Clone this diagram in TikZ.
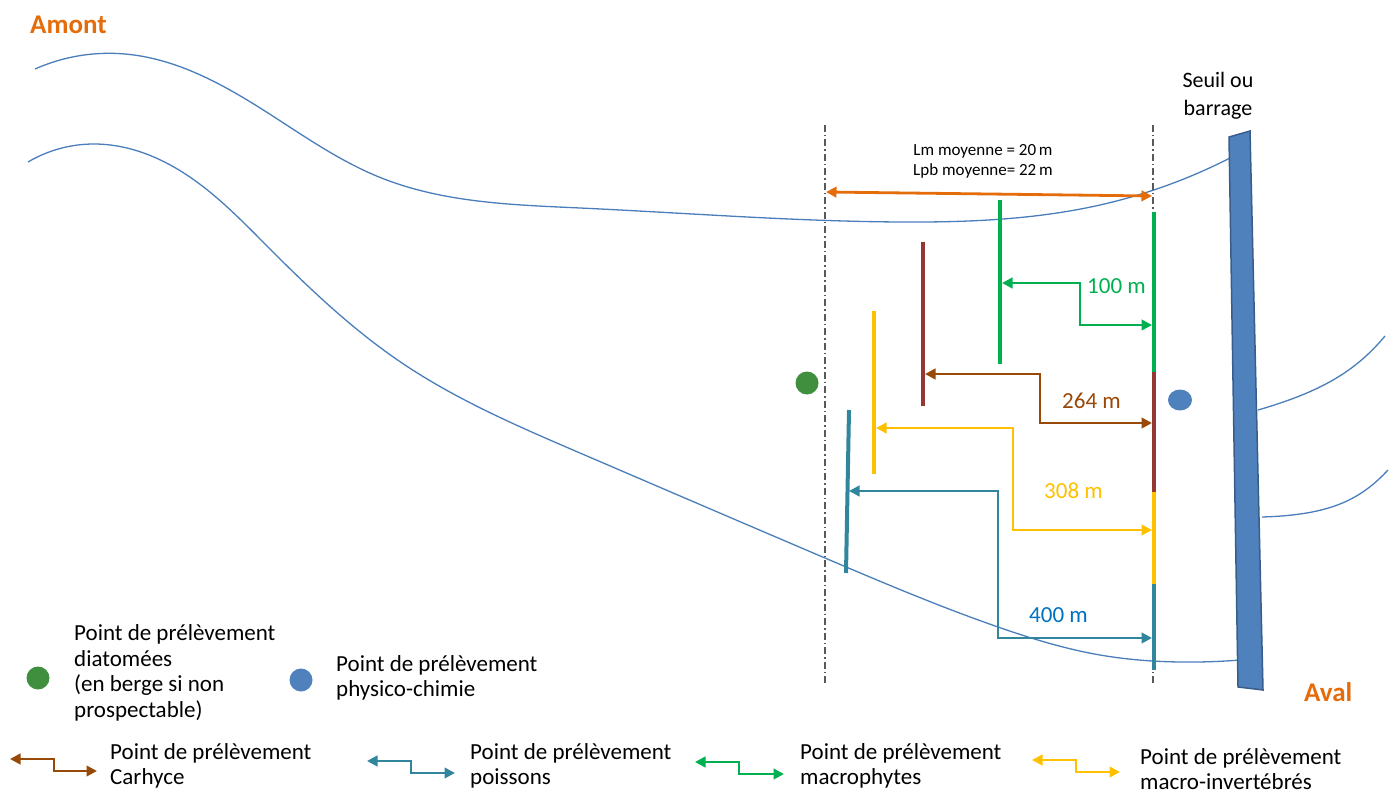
\documentclass[tikz,border=0pt]{standalone}
\usepackage{fontspec}
\setmainfont{Carlito}
\usetikzlibrary{arrows.meta,shapes.geometric,hobby}
\definecolor{river}{HTML}{4A7EBB}
\definecolor{orng}{HTML}{E46C0A}
\definecolor{grn}{HTML}{00B050}
\definecolor{brn}{HTML}{984807}
\definecolor{dred}{HTML}{953735}
\definecolor{ylw}{HTML}{FFC000}
\definecolor{tealc}{HTML}{31859C}
\definecolor{blu}{HTML}{0070C0}
\definecolor{dotgreen}{HTML}{3F8F3F}
\definecolor{dotblue}{HTML}{4F81BD}
\definecolor{damdark}{HTML}{385D8A}
\begin{document}
\begin{tikzpicture}[x=1pt,y=-1pt,
  bank/.style={river, line width=1.3pt},
  reach/.style={line width=4pt},
  elbow/.style={line width=2.8pt, line join=miter,
    {Triangle[length=10.5pt,width=10.5pt]}-{Triangle[length=10.5pt,width=10.5pt]}},
  axisline/.style={black!65, line width=1.2pt, dash pattern=on 7pt off 3pt on 1.5pt off 3pt},
  lbl/.style={font=\fontsize{23}{25}\selectfont, inner sep=0pt, anchor=west},
  leg/.style={font=\fontsize{23}{25.7}\selectfont, align=left, anchor=west, inner sep=0pt},
  title/.style={font=\fontsize{27}{30}\selectfont\bfseries, text=orng, inner sep=0pt},
  dot/.style={draw=none, circle, inner sep=0pt, minimum size=23pt},
]
\useasboundingbox (0,0) rectangle (1394,794);

% banks
\draw[bank, use Hobby shortcut] (35,69) .. (125,54) .. (268,113) .. (379,177) .. (580,208) .. (900,222) .. (1100,205) .. (1230,158);
\draw[bank, use Hobby shortcut] (28,162) .. (94,144) .. (179,170) .. (268,247) .. (402,363) .. (580,453) .. (825,558) .. (998,627) .. (1100,655) .. (1180,662) .. (1240,660);
\draw[bank] (1258,410) .. controls (1320,392) and (1355,372) .. (1385,336);
\draw[bank] (1262,517) .. controls (1330,515) and (1360,500) .. (1388,470);

% titles and barrage
\node[title, anchor=west] (amont) at (30,25) {Amont};
\node[title, anchor=west] (aval) at (1304,692) {Aval};
\node[font=\fontsize{22}{28}\selectfont, align=center, inner sep=0pt] (seuil) at (1218,96) {Seuil ou\\barrage};
\filldraw[fill=dotblue, draw=damdark, line width=1.5pt] (1229,137) -- (1250,131) -- (1263,690) -- (1238,687) -- cycle;

% vertical axes
\coordinate (axLt) at (825,125); \coordinate (axLb) at (825,683);
\coordinate (axRt) at (1153,125); \coordinate (axRb) at (1153,683);
\draw[axisline] (axLt) -- (axLb);
\draw[axisline] (axRt) -- (axRb);

% length arrow
\coordinate (lmL) at (826,192); \coordinate (lmR) at (1152,196);
\draw[orng, line width=2.8pt, {Triangle[length=10.5pt,width=10.5pt]}-{Triangle[length=10.5pt,width=10.5pt]}] (lmL) -- (lmR);
\node[font=\fontsize{17}{20}\selectfont, align=center, inner sep=0pt] (lm) at (983,161) {Lm moyenne = 20\,m\\Lpb moyenne= 22\,m};

% reach segments
\coordinate (gT) at (1000,200); \coordinate (gB) at (1000,364);
\coordinate (bT) at (923,242); \coordinate (bB) at (923,406);
\coordinate (yT) at (874,311); \coordinate (yB) at (874,474);
\coordinate (tT) at (849,410); \coordinate (tB) at (846,573);
\draw[reach, grn] (gT) -- (gB);
\draw[reach, dred] (bT) -- (bB);
\draw[reach, ylw] (yT) -- (yB);
\draw[reach, tealc] (tT) -- (tB);
\coordinate (r0) at (1154,212); \coordinate (r1) at (1154,372);
\coordinate (r2) at (1154,492); \coordinate (r3) at (1154,584); \coordinate (r4) at (1154,670);
\draw[reach, grn] (r0) -- (r1);
\draw[reach, dred] (r1) -- (r2);
\draw[reach, ylw] (r2) -- (r3);
\draw[reach, tealc] (r3) -- (r4);

% elbow arrows
\coordinate (gA) at (1002,283); \coordinate (gM) at (1080,304); \coordinate (gE) at (1152,325);
\draw[elbow, grn] (gA) -| (gM) |- (gE);
\node[lbl, text=grn] (d100) at (1087,286) {100 m};
\coordinate (bA) at (925,374); \coordinate (bM) at (1040,400); \coordinate (bE) at (1152,423);
\draw[elbow, brn] (bA) -| (bM) |- (bE);
\node[lbl, text=brn] (d264) at (1062,401) {264 m};
\coordinate (yA) at (876,428); \coordinate (yM) at (1013,480); \coordinate (yE) at (1152,530);
\draw[elbow, ylw] (yA) -| (yM) |- (yE);
\node[lbl, text=ylw] (d308) at (1044,491) {308 m};
\coordinate (tA) at (849,491); \coordinate (tM) at (998,560); \coordinate (tE) at (1152,638);
\draw[elbow, tealc] (tA) -| (tM) |- (tE);
\node[lbl, text=blu] (d400) at (1029,615) {400 m};

% dots
\node[dot, fill=dotgreen] (diat) at (807,383) {};
\node[draw=none, fill=dotblue, ellipse, inner sep=0pt, minimum width=24pt, minimum height=21pt] (phys) at (1180,400) {};

% legend
\node[dot, fill=dotgreen] (legdiat) at (38,678) {};
\node[leg] (legdiatT) at (74,673) {Point de prélèvement\\diatomées\\(en berge si non\\prospectable)};
\node[dot, fill=dotblue] (legphys) at (301,680) {};
\node[leg] (legphysT) at (336,678) {Point de prélèvement\\physico-chimie};

\coordinate (l1a) at (10,759); \coordinate (l1m) at (54,765); \coordinate (l1b) at (97,771);
\draw[elbow, brn] (l1a) -| (l1m) |- (l1b);
\node[leg] (l1t) at (110,766) {Point de prélèvement\\Carhyce};
\coordinate (l2a) at (367,761); \coordinate (l2m) at (411,767); \coordinate (l2b) at (455,773);
\draw[elbow, tealc] (l2a) -| (l2m) |- (l2b);
\node[leg] (l2t) at (470,766) {Point de prélèvement\\poissons};
\coordinate (l3a) at (695,762); \coordinate (l3m) at (739,768); \coordinate (l3b) at (784,774);
\draw[elbow, grn] (l3a) -| (l3m) |- (l3b);
\node[leg] (l3t) at (800,766) {Point de prélèvement\\macrophytes};
\coordinate (l4a) at (1032,760); \coordinate (l4m) at (1076,766) ; \coordinate (l4b) at (1120,772);
\draw[elbow, ylw] (l4a) -| (l4m) |- (l4b);
\node[leg] (l4t) at (1140,769) {Point de prélèvement\\macro-invertébrés};
\end{tikzpicture}
\end{document}
